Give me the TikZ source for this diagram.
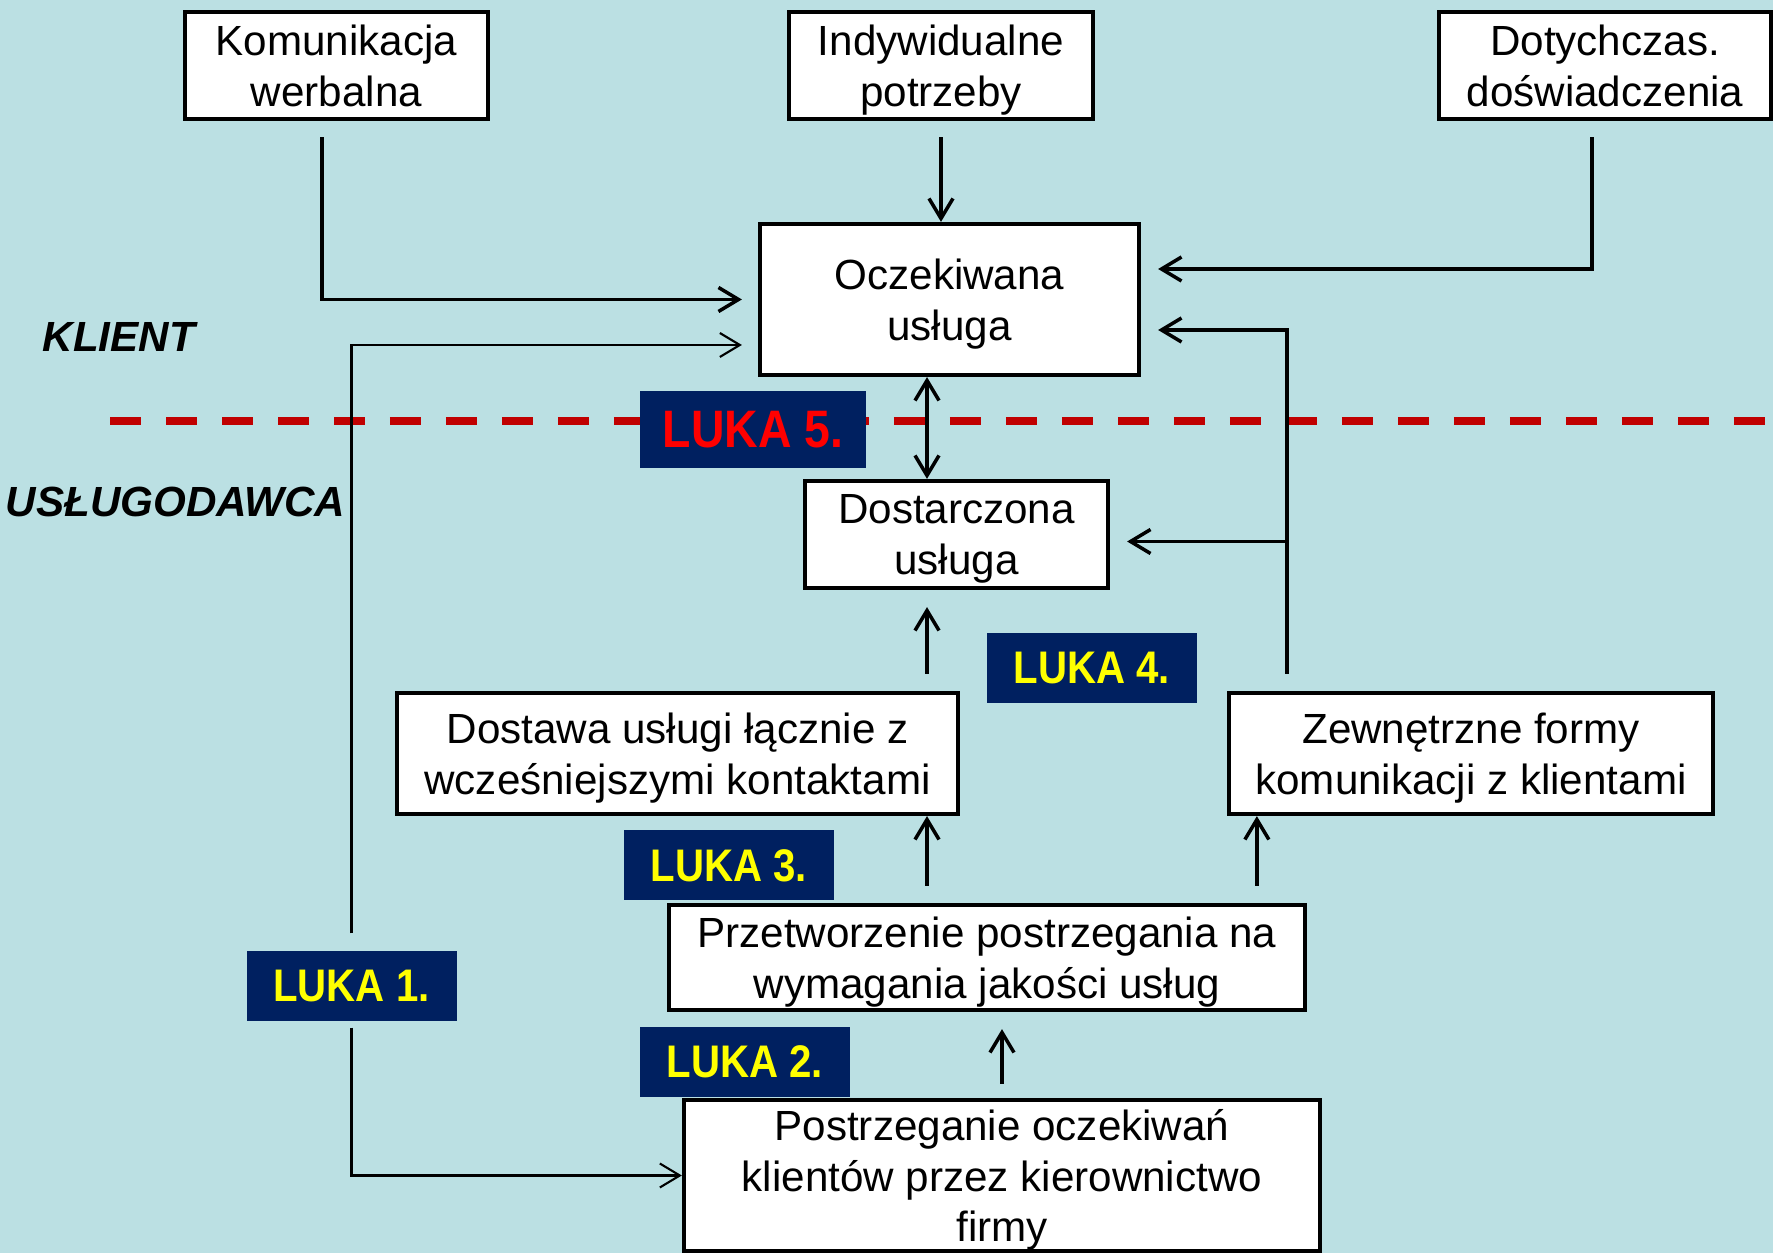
\documentclass[tikz,border=0pt]{standalone}
\usepackage{fontspec}
\setmainfont{Liberation Sans}
\newfontfamily\lukafont[FakeStretch=0.88]{Liberation Sans}
\usetikzlibrary{arrows.meta}

\definecolor{bgblue}{RGB}{187,224,227}
\definecolor{lukanavy}{RGB}{0,32,96}
\definecolor{lukared}{RGB}{255,0,0}
\definecolor{lukayellow}{RGB}{255,255,0}
\definecolor{divred}{RGB}{192,0,0}

\begin{document}
\begin{tikzpicture}[
    x=0.1mm, y=-0.1mm,
    box/.style={rectangle, draw, fill=white, line width=1.2pt, inner sep=0pt, align=center, text depth=0pt, font=\fontsize{12}{14.5}\selectfont},
    lukabox/.style={rectangle, fill=lukanavy, text=lukayellow, inner sep=0pt, minimum width=21mm, minimum height=7mm, font=\lukafont\bfseries\fontsize{13}{15}\selectfont},
    sidelabel/.style={anchor=west, inner sep=0pt, font=\bfseries\itshape\fontsize{12}{14}\selectfont},
    arr/.style={-{Straight Barb[length=2mm,width=2.4mm]}, line width=1pt},
    twoarr/.style={{Straight Barb[length=2mm,width=2.4mm]}-{Straight Barb[length=2mm,width=2.4mm]}, line width=1pt},
    thinarr/.style={arr, line width=0.6pt},
    divider/.style={divred, line width=2pt, dash pattern=on 3.1mm off 2.5mm}
]
    % Background
    \useasboundingbox (0,0) rectangle (1773,1253);
    \fill[bgblue] (0,0) rectangle (1773,1253);

    % Client / provider border
    \draw[divider] (110,421) -- (1773,421);
    \node[sidelabel] (klient) at (42,337) {KLIENT};
    \node[sidelabel] (uslugodawca) at (5,502) {USŁUGODAWCA};

    % Boxes
    \node[box, minimum width=30.3mm, minimum height=10.7mm] (kom) at (336.5,65.5) {Komunikacja\\werbalna};
    \node[box, minimum width=30.4mm, minimum height=10.7mm] (ind) at (941,65.5) {Indywidualne\\potrzeby};
    \node[box, minimum width=33.2mm, minimum height=10.7mm] (dot) at (1605,65.5) {Dotychczas.\\doświadczenia};
    \node[box, minimum width=37.9mm, minimum height=15.1mm] (ocz) at (949.5,299.5) {Oczekiwana\\usługa};
    \node[box, minimum width=30.3mm, minimum height=10.7mm] (dos) at (956.5,534.5) {Dostarczona\\usługa};
    \node[box, minimum width=56.1mm, minimum height=12.1mm] (dst) at (677.5,753.5) {Dostawa usługi łącznie z\\wcześniejszymi kontaktami};
    \node[box, minimum width=48.4mm, minimum height=12.1mm] (zew) at (1471,753.5) {Zewnętrzne formy\\komunikacji z klientami};
    \node[box, minimum width=63.6mm, minimum height=10.5mm] (prz) at (987,957.5) {Przetworzenie postrzegania na\\wymagania jakości usług};
    \node[box, minimum width=63.6mm, minimum height=15.1mm] (pos) at (1002,1175.5) {Postrzeganie oczekiwań\\klientów przez kierownictwo\\firmy};

    % Gaps
    \node[lukabox, minimum width=22.6mm, minimum height=7.7mm, text=lukared, font=\lukafont\bfseries\fontsize{15}{17}\selectfont] (l5) at (753,429.5) {LUKA 5.};
    \node[lukabox] (l4) at (1092,668) {LUKA 4.};
    \node[lukabox] (l3) at (729,865.5) {LUKA 3.};
    \node[lukabox] (l1) at (351.5,986) {LUKA 1.};
    \node[lukabox] (l2) at (745,1062) {LUKA 2.};

    % Connectors
    \draw[arr] ([xshift=-1.45mm,yshift=-1.6mm]kom.south) |- ([xshift=-1.6mm]ocz.west);
    \draw[arr] ([yshift=-1.6mm]ind.south) -- (ind.south |- ocz.north);
    \draw[arr] ([xshift=-1.3mm,yshift=-1.6mm]dot.south) |- ([xshift=1.7mm,yshift=3.05mm]ocz.east);

    \coordinate (zt) at ([xshift=6mm,yshift=1.7mm]zew.north west);
    \draw[arr] (zt) |- ([xshift=1.7mm,yshift=-3.05mm]ocz.east);
    \draw[arr] ([yshift=-0.7mm]zt |- dos.east) -- ([xshift=1.7mm,yshift=-0.7mm]dos.east);

    \coordinate (mid) at ([xshift=-2.25mm]ocz.south);
    \draw[twoarr] (mid) -- (mid |- dos.north);
    \draw[arr] ([yshift=1.7mm]mid |- dst.north) -- ([yshift=-1.7mm]mid |- dos.south);
    \draw[arr] ([yshift=1.7mm]mid |- prz.north) -- (mid |- dst.south);

    \coordinate (zb) at ([xshift=3mm]zew.south west);
    \draw[arr] ([yshift=1.7mm]zb |- prz.north) -- (zb);
    \draw[arr] ([yshift=1.4mm]pos.north) -- ([yshift=-1.7mm]pos.north |- prz.south);

    \draw[thinarr] ([yshift=1.7mm]l1.north) |- ([xshift=-1.6mm,yshift=-4.55mm]ocz.west);
    \draw[thinarr] ([yshift=-0.6mm]l1.south) |- (pos.west);
\end{tikzpicture}
\end{document}
